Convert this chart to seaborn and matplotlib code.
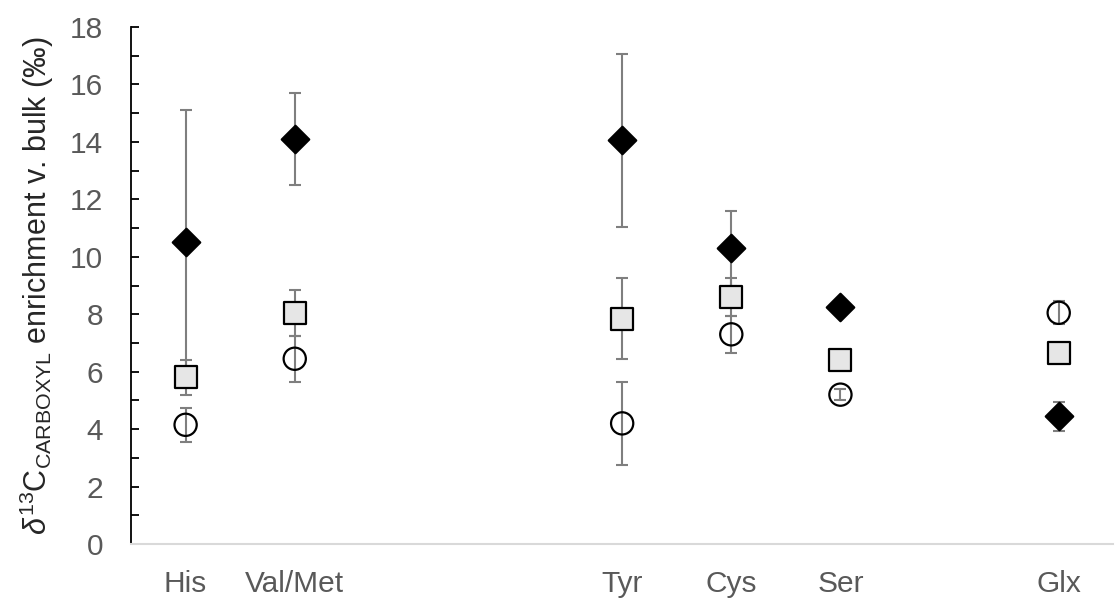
import numpy as np
import pandas as pd
import matplotlib
matplotlib.use("Agg")
import matplotlib.pyplot as plt
from matplotlib.ticker import MultipleLocator
import seaborn as sns

# Category slots along the x axis (blank slots keep the spacing between groups)
slot_order = ["His", "Val/Met", "", " ", "Tyr", "Cys", "Ser", "  ", "Glx"]
amino_acids = ["His", "Val/Met", "Tyr", "Cys", "Ser", "Glx"]

# Mean carboxyl enrichment (per mil) and error for each series
diamond_vals = [10.5, 14.1, 14.05, 10.3, 8.25, 4.45]
diamond_err = [4.6, 1.6, 3.0, 1.3, 0.0, 0.5]

square_vals = [5.8, 8.05, 7.85, 8.6, 6.4, 6.65]
square_err = [0.6, 0.8, 1.4, 0.65, 0.0, 0.0]

circle_vals = [4.15, 6.45, 4.2, 7.3, 5.2, 8.05]
circle_err = [0.6, 0.8, 1.45, 0.65, 0.2, 0.4]

x_pos = [slot_order.index(a) for a in amino_acids]

sns.set_theme(style="white")
plt.rcParams["font.family"] = ["Liberation Sans", "DejaVu Sans"]
plt.rcParams["mathtext.fontset"] = "custom"
plt.rcParams["mathtext.rm"] = "Liberation Sans"
plt.rcParams["mathtext.it"] = "Liberation Sans:italic"

fig = plt.figure(figsize=(11.2, 5.98), dpi=100)
ax = fig.add_axes([0.117, 0.0903, 0.877, 0.8645])

err_color = "#7f7f7f"
series = [
    (circle_vals, circle_err, dict(marker="o", s=16 ** 2, facecolor="none", edgecolor="black")),
    (square_vals, square_err, dict(marker="s", s=15.5 ** 2, facecolor="#e6e6e6", edgecolor="black")),
    (diamond_vals, diamond_err, dict(marker="D", s=14 ** 2, facecolor="black", edgecolor="black")),
]

for vals, errs, style in series:
    df = pd.DataFrame({"x": x_pos, "y": vals, "err": errs})
    has_err = df[df["err"] > 0]
    ax.errorbar(has_err["x"], has_err["y"], yerr=has_err["err"], fmt="none",
                ecolor=err_color, elinewidth=1.5, capsize=4.5, capthick=1.5, zorder=2)
    sns.scatterplot(data=df, x="x", y="y", ax=ax, marker=style["marker"], s=style["s"],
                    facecolor=style["facecolor"], edgecolor=style["edgecolor"],
                    linewidth=1.6, zorder=3, legend=False)

ax.set_xlim(-0.5, len(slot_order) - 0.5)
ax.set_ylim(0, 18)
ax.set_xticks(range(len(slot_order)))
ax.set_xticklabels(slot_order)
ax.yaxis.set_major_locator(MultipleLocator(2))
ax.yaxis.set_minor_locator(MultipleLocator(1))

for side in ["top", "right"]:
    ax.spines[side].set_visible(False)
ax.spines["left"].set_color("black")
ax.spines["left"].set_linewidth(1.3)
ax.spines["bottom"].set_color("#d9d9d9")
ax.spines["bottom"].set_linewidth(1.5)

ax.tick_params(axis="y", which="both", direction="in", left=True, length=5.5, width=1.3,
               color="black", labelsize=21.5, labelcolor="#595959", pad=20)
ax.tick_params(axis="x", which="both", bottom=False, labelsize=21.5, labelcolor="#595959", pad=13)

ax.set_xlabel("")
ax.set_ylabel(r"$\it{\delta}^{13}$C$_{\mathrm{CARBOXYL}}$ enrichment v. bulk (‰)",
              fontsize=22, color="#262626", labelpad=10)

fig.savefig("out.png", dpi=100)
